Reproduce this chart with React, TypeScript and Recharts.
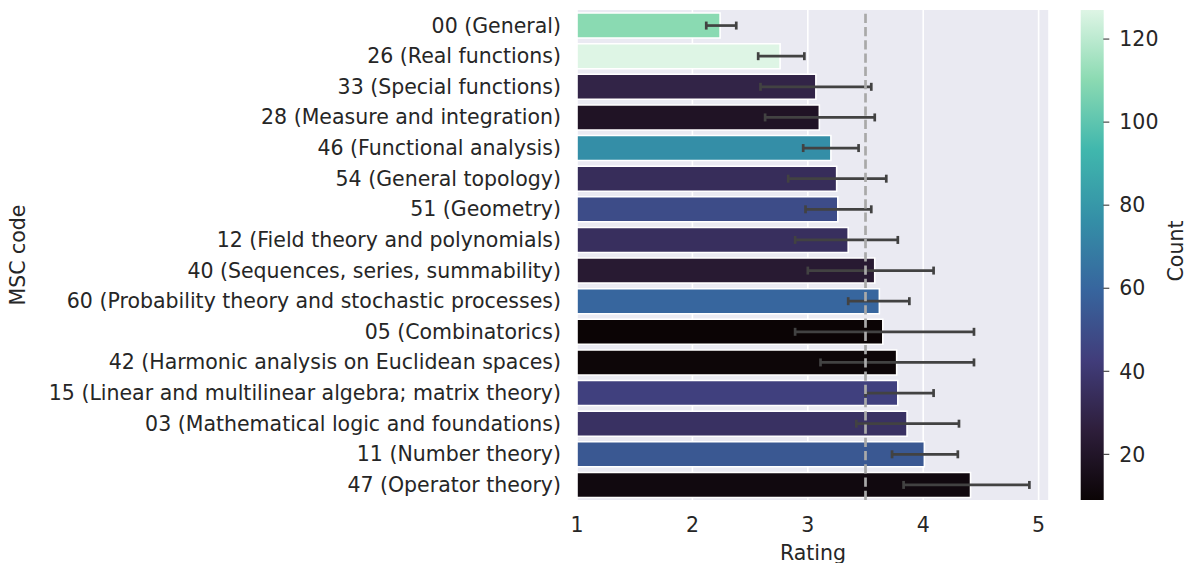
import React from 'react';
import { BarChart, Bar, XAxis, YAxis, CartesianGrid, Cell, ErrorBar, ReferenceLine } from 'recharts';

const categories = [
  '00 (General)',
  '26 (Real functions)',
  '33 (Special functions)',
  '28 (Measure and integration)',
  '46 (Functional analysis)',
  '54 (General topology)',
  '51 (Geometry)',
  '12 (Field theory and polynomials)',
  '40 (Sequences, series, summability)',
  '60 (Probability theory and stochastic processes)',
  '05 (Combinatorics)',
  '42 (Harmonic analysis on Euclidean spaces)',
  '15 (Linear and multilinear algebra; matrix theory)',
  '03 (Mathematical logic and foundations)',
  '11 (Number theory)',
  '47 (Operator theory)',
];
const ratings = [2.24, 2.76, 3.07, 3.1, 3.2, 3.25, 3.26, 3.35, 3.58, 3.62, 3.65, 3.77, 3.78, 3.86, 4.01, 4.41];
const ciLow = [2.12, 2.57, 2.59, 2.63, 2.96, 2.83, 2.98, 2.89, 3.0, 3.35, 2.89, 3.11, 3.5, 3.42, 3.73, 3.83];
const ciHigh = [2.38, 2.97, 3.55, 3.58, 3.44, 3.68, 3.55, 3.78, 4.09, 3.88, 4.44, 4.44, 4.09, 4.31, 4.3, 4.92];
const counts = [110, 127, 29, 19, 76, 34, 49, 35, 23, 60, 9, 10, 44, 36, 54, 12];
const xTicks = [1, 2, 3, 4, 5];
const countTicks = [20, 40, 60, 80, 100, 120];
const countMin = 9;
const countMax = 127;
const meanRating = 3.5;

const MAKO: [number, string][] = [
  [0, '#0b0405'],
  [1 / 7, '#2e1e3b'],
  [2 / 7, '#413d7b'],
  [3 / 7, '#37659e'],
  [4 / 7, '#348fa7'],
  [5 / 7, '#40b7ad'],
  [6 / 7, '#8bdab2'],
  [1, '#def5e5'],
];

function hexToRgb(h: string) {
  return [parseInt(h.slice(1, 3), 16), parseInt(h.slice(3, 5), 16), parseInt(h.slice(5, 7), 16)];
}
function mako(t: number): string {
  const v = Math.max(0, Math.min(1, t));
  for (let i = 0; i < MAKO.length - 1; i++) {
    const [t0, c0] = MAKO[i];
    const [t1, c1] = MAKO[i + 1];
    if (v <= t1) {
      const f = (v - t0) / (t1 - t0);
      const a = hexToRgb(c0);
      const b = hexToRgb(c1);
      const c = a.map((x, k) => Math.round(x + (b[k] - x) * f));
      return `rgb(${c[0]},${c[1]},${c[2]})`;
    }
  }
  return MAKO[MAKO.length - 1][1];
}
const countColor = (c: number) => mako((c - countMin) / (countMax - countMin));

const data = categories.map((label, i) => ({
  label,
  rating: ratings[i],
  err: [ratings[i] - ciLow[i], ciHigh[i] - ratings[i]],
  count: counts[i],
}));

const cbData = [{ name: 'cb', range: [countMin, countMax] }];

const TEXT = '#262626';
const FONT = 'DejaVu Sans, sans-serif';
const FS = 20.5;

export default function App() {
  return (
    <div style={{ position: 'absolute', left: 0, top: 0, width: 1190, height: 563, background: '#fff', fontFamily: FONT }}>
      <div style={{ position: 'absolute', left: 0, top: 0 }}>
        <BarChart
          width={1190}
          height={563}
          data={data}
          layout="vertical"
          margin={{ top: 10, right: 141, bottom: 0, left: 0 }}
          barCategoryGap="10%"
        >
          <CartesianGrid horizontal={false} fill="#EAEAF2" stroke="#ffffff" strokeWidth={1.6} />
          <XAxis
            type="number"
            dataKey="rating"
            domain={[1, 5.09]}
            ticks={xTicks}
            allowDataOverflow
            axisLine={false}
            tickLine={false}
            tickSize={0}
            tickMargin={17}
            height={63}
            tick={{ fill: TEXT, fontSize: FS, fontFamily: FONT }}
            label={{
              content: (props: any) => {
                const vb = props.viewBox || {};
                return (
                  <text x={vb.x + vb.width / 2} y={vb.y + 59.5} textAnchor="middle" fill={TEXT} fontSize={FS} fontFamily={FONT}>
                    Rating
                  </text>
                );
              },
            }}
          />
          <YAxis
            type="category"
            dataKey="label"
            width={577}
            axisLine={false}
            tickLine={false}
            tickSize={0}
            tickMargin={16}
            interval={0}
            tick={{ fill: TEXT, fontSize: FS, fontFamily: FONT }}
            label={{
              content: (props: any) => {
                const vb = props.viewBox || {};
                const cx = vb.x + 25;
                const cy = vb.y + vb.height / 2;
                return (
                  <text x={cx} y={cy} transform={`rotate(-90, ${cx}, ${cy})`} textAnchor="middle" fill={TEXT} fontSize={FS} fontFamily={FONT}>
                    MSC code
                  </text>
                );
              },
            }}
          />
          <Bar dataKey="rating" isAnimationActive={false}>
            {data.map((d, i) => (
              <Cell key={i} fill={countColor(d.count)} stroke="#ffffff" strokeWidth={1.6} />
            ))}
            <ErrorBar dataKey="err" direction="x" width={4} stroke="#424242" strokeWidth={2.7} />
          </Bar>
          <ReferenceLine x={meanRating} stroke="#a9a9a9" strokeWidth={2.7} strokeDasharray="9.25 4" />
        </BarChart>
      </div>
      <div style={{ position: 'absolute', left: 1060, top: 0 }}>
        <BarChart
          width={130}
          height={563}
          data={cbData}
          margin={{ top: 10, right: 0, bottom: 63, left: 20.7 }}
          barCategoryGap={0}
        >
          <defs>
            <linearGradient id="makoGrad" x1="0" y1="1" x2="0" y2="0">
              {MAKO.map(([t, c], i) => (
                <stop key={i} offset={`${t * 100}%`} stopColor={c} />
              ))}
            </linearGradient>
          </defs>
          <XAxis dataKey="name" type="category" hide />
          <YAxis
            type="number"
            orientation="right"
            domain={[countMin, countMax]}
            ticks={countTicks}
            allowDataOverflow
            width={86.7}
            axisLine={false}
            tickLine={{ stroke: TEXT, strokeWidth: 1 }}
            tickSize={6}
            tickMargin={10}
            tick={{ fill: TEXT, fontSize: FS, fontFamily: FONT }}
            label={{
              content: () => {
                const cx = 1183 - 1060;
                const cy = 251;
                return (
                  <text x={cx} y={cy} transform={`rotate(-90, ${cx}, ${cy})`} textAnchor="middle" fill={TEXT} fontSize={FS} fontFamily={FONT}>
                    Count
                  </text>
                );
              },
            }}
          />
          <Bar dataKey="range" fill="url(#makoGrad)" isAnimationActive={false} />
        </BarChart>
      </div>
    </div>
  );
}
